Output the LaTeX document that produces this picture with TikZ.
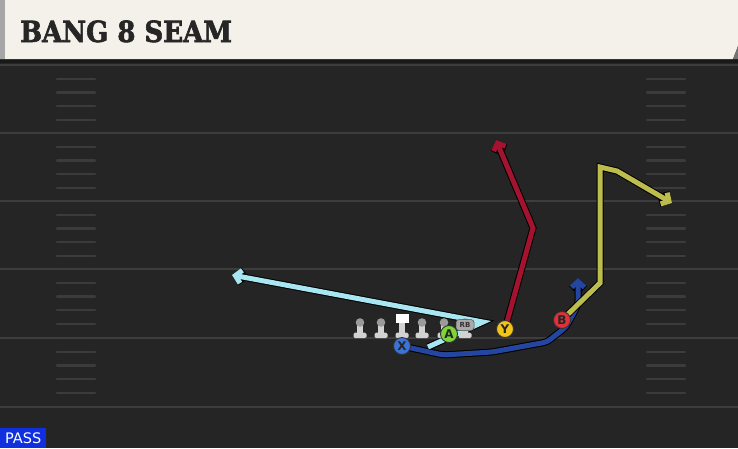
\documentclass[tikz,border=0pt]{standalone}
\usepackage{fontspec}
\usepackage{graphicx}
\setmainfont{DejaVu Sans}
\newfontfamily\titlefont{DejaVu Serif}[BoldFeatures={FakeBold=2.2}]
\usetikzlibrary{arrows.meta}

\definecolor{fieldbg}{HTML}{252525}
\definecolor{yardgray}{HTML}{3D3D3D}
\definecolor{hashgray}{HTML}{3B3B3B}
\definecolor{headercream}{HTML}{F4F1EA}
\definecolor{passblue}{HTML}{1030E0}
\definecolor{cyanroute}{HTML}{A8E6F2}
\definecolor{redroute}{HTML}{A3122E}
\definecolor{oliveroute}{HTML}{BDBD4E}
\definecolor{blueroute}{HTML}{2446A0}
\definecolor{xblue}{HTML}{3B73D9}
\definecolor{agreen}{HTML}{7FD43A}
\definecolor{yyellow}{HTML}{F2C418}
\definecolor{bred}{HTML}{E0303A}
\definecolor{linelight}{HTML}{D2D2D2}
\definecolor{linedark}{HTML}{9A9A9A}

\pgfdeclarelayer{ground}
\pgfdeclarelayer{routes}
\pgfsetlayers{ground,routes,main}

\tikzset{
  yardline/.style={draw=yardgray, line width=2.6pt},
  hashmark/.style={draw=hashgray, line width=2.2pt, line cap=round},
  route/.style={draw=#1, line width=5pt, line join=miter,
    preaction={draw=black, line width=7pt}},
  tip/.style={-{Straight Barb[length=6pt,width=13pt]}},
  player/.style={circle, draw=black!80, line width=0.9pt, fill=#1,
    minimum size=17pt, inner sep=0pt, text=black!85,
    font=\bfseries\fontsize{12}{12}\selectfont},
  lineman/.pic={
    \fill[linelight, rounded corners=1.5pt] (-6.5,0) rectangle (6.5,-5.5);
    \fill[linelight] (-3.2,-5) rectangle (3.2,-14);
    \fill[linedark] (0,-15.5) circle (4.3);
  },
  centerman/.pic={
    \fill[linelight, rounded corners=1.5pt] (-6.5,0) rectangle (6.5,-5.5);
    \fill[linelight] (-3.2,-5) rectangle (3.2,-15);
    \fill[white] (-6.5,-15) rectangle (6.5,-24);
  },
}

\begin{document}
\begin{tikzpicture}[x=1pt, y=-1pt]
  \useasboundingbox (0,0) rectangle (738,448);

  \begin{pgfonlayer}{ground}
    % field
    \fill[fieldbg] (0,0) rectangle (738,448);
    \fill[black!90] (0,59) rectangle (738,63);
    \foreach \yy in {65,133,201,269,338,407}
      \draw[yardline] (0,\yy) -- (738,\yy);
    \foreach \yy in {65,133,201,269,338}
      \foreach \k in {1,...,4} {
        \draw[hashmark] (57,\yy+\k*13.7) -- (95,\yy+\k*13.7);
        \draw[hashmark] (647,\yy+\k*13.7) -- (685,\yy+\k*13.7);
      }
    % header
    \fill[headercream] (0,0) -- (738,0) -- (738,46) -- (733,59) -- (0,59) -- cycle;
    \fill[black!35] (0,0) rectangle (5,59);
    \fill[black!55] (738,46) -- (738,59) -- (733,59) -- cycle;
  \end{pgfonlayer}

  \node[anchor=base west, inner sep=0pt, text=black!85,
    font=\titlefont\bfseries\fontsize{26}{26}\selectfont] (title) at (20,42)
    {\scalebox{1}[1.12]{BANG 8 SEAM}};

  \node[fill=passblue, text=white, anchor=south west, minimum width=46pt,
    minimum height=20pt, inner sep=0pt, font=\fontsize{14.5}{14.5}\selectfont] (pass) at (0,448) {PASS};

  % line
  \foreach \xx in {360,381,422,444,465}
    \pic at (\xx,338) {lineman};
  \pic at (402,338) {centerman};
  \node[fill=linedark!85, draw=black!70, line width=0.5pt, rounded corners=3pt,
    minimum width=18pt, minimum height=11pt, inner sep=0pt, text=black!80,
    font=\bfseries\fontsize{7}{7}\selectfont] (rb) at (465,325) {RB};

  % receivers
  \node[player=xblue] (X) at (402,346) {X};
  \node[player=agreen] (A) at (449,334) {A};
  \node[player=yyellow] (Y) at (505,329) {Y};
  \node[player=bred] (B) at (562,320) {B};

  \coordinate (atail) at (428,347);
  \coordinate (abend) at (483,322);
  \coordinate (atip) at (232,275);
  \coordinate (ybend) at (533,228);
  \coordinate (ytip) at (496,140);
  \coordinate (bbend) at (600,283);
  \coordinate (btop) at (600,167);
  \coordinate (bturn) at (617,171);
  \coordinate (btip) at (672,203);
  \coordinate (xa) at (443,355);
  \coordinate (xb) at (492,352);
  \coordinate (xc) at (547,342);
  \coordinate (xd) at (566,327);
  \coordinate (xe) at (578,305);
  \coordinate (xtip) at (578,278);

  \begin{pgfonlayer}{routes}
    \draw[route=blueroute, tip, rounded corners=4pt] (X.center) -- (xa) -- (xb) -- (xc) -- (xd) -- (xe) -- (xtip);
    \draw[route=cyanroute, tip] (atail) -- (abend) -- (atip);
    \draw[route=redroute, tip] (Y.center) -- (ybend) -- (ytip);
    \draw[route=oliveroute, tip] (B.center) -- (bbend) -- (btop) -- (bturn) -- (btip);
  \end{pgfonlayer}
\end{tikzpicture}
\end{document}
